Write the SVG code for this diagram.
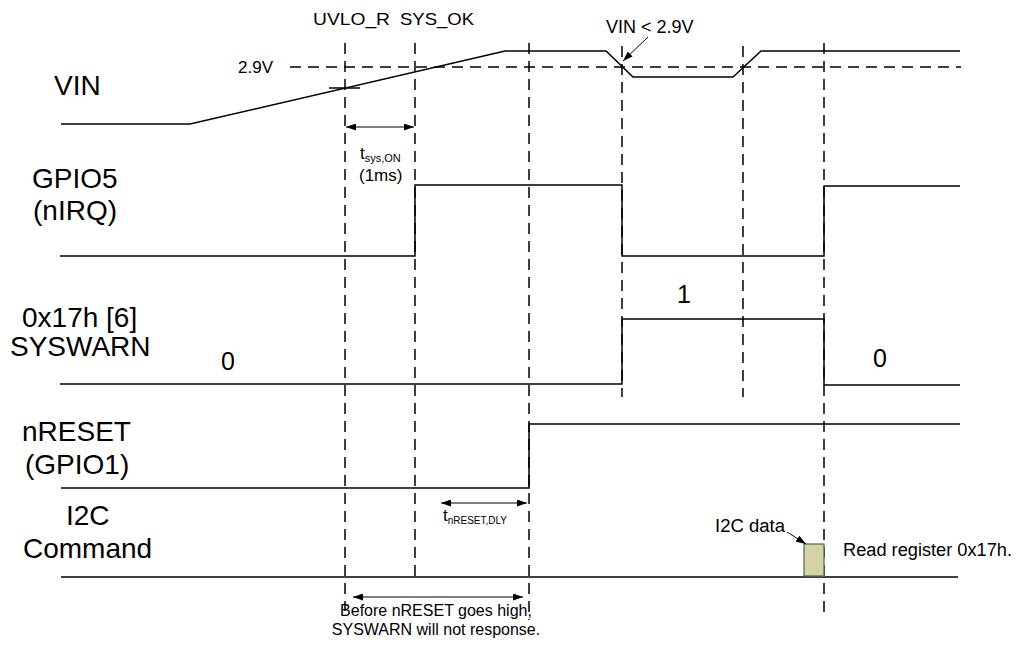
<svg xmlns="http://www.w3.org/2000/svg" width="1019" height="648" viewBox="0 0 1019 648">
<style>
text{font-family:"Liberation Sans",Arial,sans-serif;fill:#000}
.lbl{font-size:28px}
.sm{font-size:16px}
.sig{fill:none;stroke:#000;stroke-width:1.5}
.dash{fill:none;stroke:#000;stroke-width:1.5;stroke-dasharray:11 7}
.dim{fill:none;stroke:#000;stroke-width:1}
</style>
<defs>
<marker id="ah" markerWidth="10" markerHeight="7" refX="10" refY="3.5" orient="auto-start-reverse" markerUnits="userSpaceOnUse"><path d="M0,0 L10,3.5 L0,7 z" fill="#000"/></marker>
</defs>
<rect width="1019" height="648" fill="#fff"/>
<g id="guides">
<path class="dash" d="M290,67 L961,67"/>
<path class="dash" d="M345,43 L345,611"/>
<path class="dash" d="M415,43 L415,583"/>
<path class="dash" d="M529,43 L529,620"/>
<path class="dash" d="M622,46 L622,397"/>
<path class="dash" d="M743,46 L743,397"/>
<path class="dash" d="M824,43 L824,612"/>
</g>
<g id="header">
<text x="313" y="25" font-size="17" textLength="77" lengthAdjust="spacingAndGlyphs">UVLO_R</text>
<text x="400" y="25" font-size="17" textLength="74" lengthAdjust="spacingAndGlyphs">SYS_OK</text>
<text x="238" y="73" font-size="17">2.9V</text>
<text x="606" y="33" font-size="18">VIN &lt; 2.9V</text>
</g>
<g id="vin">
<text class="lbl" x="54" y="95">VIN</text>
<path class="sig" d="M61,124 L190,124 L505,51 L606,51 L633,77 L733,77 L761,51 L960,51"/>
<path class="sig" d="M329,88 L360,88"/>
</g>
<g id="gpio5">
<text class="lbl" x="32" y="188">GPIO5</text>
<text class="lbl" x="33" y="220">(nIRQ)</text>
<path class="sig" d="M60,256 L415,256 L415,185 L622,185 L622,256 L824,256 L824,186 L960,186"/>
</g>
<g id="syswarn">
<text class="lbl" x="22" y="327">0x17h [6]</text>
<text class="lbl" x="10" y="356">SYSWARN</text>
<text x="221" y="370" font-size="25">0</text>
<text x="677" y="303" font-size="25">1</text>
<text x="873" y="367" font-size="25">0</text>
<path class="sig" d="M60,384 L622,384 L622,319 L824,319 L824,385 L960,385"/>
</g>
<g id="nreset">
<text class="lbl" x="22" y="441">nRESET</text>
<text class="lbl" x="25" y="474">(GPIO1)</text>
<path class="sig" d="M61,488 L529,488 L529,424 L960,424"/>
</g>
<g id="i2c">
<text class="lbl" x="66" y="525">I2C</text>
<text class="lbl" x="23" y="558">Command</text>
<path class="sig" d="M61,577 L958,577"/>
<rect x="804" y="544" width="20" height="32" fill="#d4d2a8" stroke="#466f46" stroke-width="1.2"/>
<text x="715" y="532" font-size="18" textLength="70" lengthAdjust="spacingAndGlyphs">I2C data</text>
<text x="843" y="556" font-size="18" textLength="169" lengthAdjust="spacingAndGlyphs">Read register 0x17h.</text>
</g>
<g id="annotations">
<text x="360" y="159" font-size="17">t<tspan font-size="11" dy="3">sys,ON</tspan></text>
<text x="359" y="181" font-size="17">(1ms)</text>
<text x="443" y="521" font-size="17">t<tspan font-size="10" dy="3">nRESET,DLY</tspan></text>
<text x="436" y="616" font-size="16" text-anchor="middle">Before nRESET goes high,</text>
<text x="436" y="635" font-size="16" text-anchor="middle">SYSWARN will not response.</text>
</g>
<g id="connectors">
<line class="dim" x1="346" y1="127" x2="414" y2="127" marker-start="url(#ah)" marker-end="url(#ah)"/>
<line class="dim" x1="441" y1="503" x2="527" y2="503" marker-start="url(#ah)" marker-end="url(#ah)"/>
<line class="dim" x1="353" y1="597" x2="523" y2="597" marker-start="url(#ah)" marker-end="url(#ah)"/>
<line class="dim" x1="648" y1="37" x2="623" y2="61" marker-end="url(#ah)"/>
<line class="dim" x1="787" y1="532" x2="806" y2="544" marker-end="url(#ah)"/>
</g>
</svg>
